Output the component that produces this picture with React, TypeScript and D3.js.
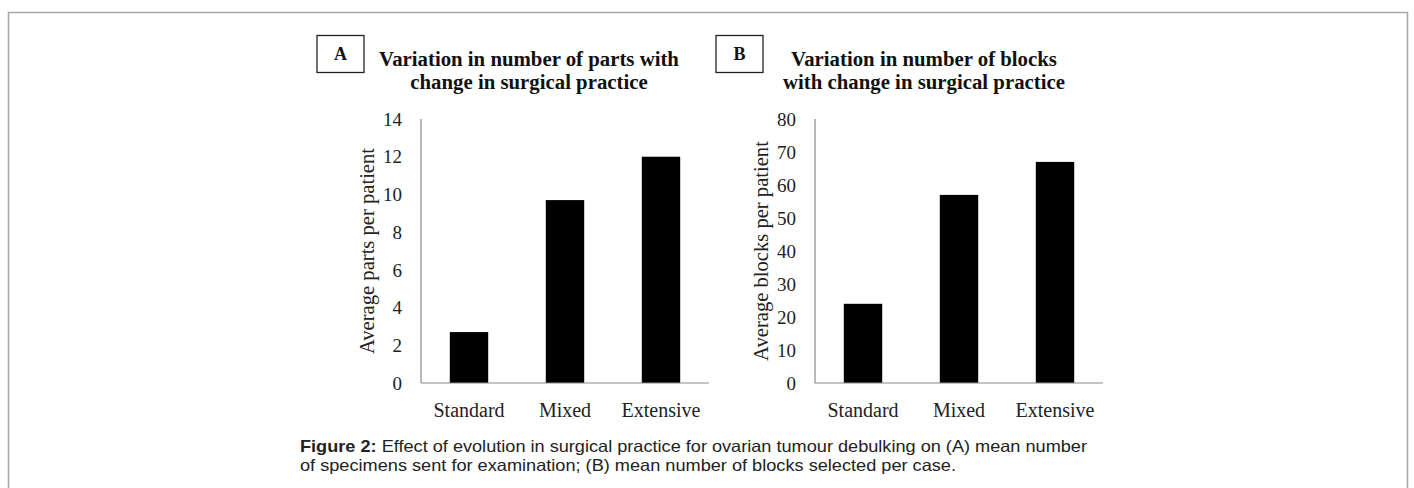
import React from 'react';
import * as d3 from 'd3';

const categories = ['Standard', 'Mixed', 'Extensive'];
const partsValues = [2.7, 9.7, 12];
const blocksValues = [24, 57, 67];
const partsTicks = [0, 2, 4, 6, 8, 10, 12, 14];
const blocksTicks = [0, 10, 20, 30, 40, 50, 60, 70, 80];

const serif = '"Liberation Serif", "Times New Roman", serif';
const sans = '"Liberation Sans", Arial, sans-serif';

type PanelProps = {
  axisX: number;
  letter: string;
  boxX: number;
  titleX: number;
  titleLines: string[];
  yLabel: string;
  values: number[];
  ticks: number[];
};

const Panel = ({ axisX, letter, boxX, titleX, titleLines, yLabel, values, ticks }: PanelProps) => {
  const top = 119;
  const bottom = 383;
  const plotW = 288;

  const x = d3.scaleBand<string>()
    .domain(categories)
    .range([axisX, axisX + plotW])
    .paddingInner(0.6)
    .paddingOuter(0.3);

  const y = d3.scaleLinear()
    .domain([0, d3.max(ticks) as number])
    .range([bottom, top]);

  return (
    <g>
      {/* letter box */}
      <rect x={boxX} y={35.5} width={47} height={37} fill="none" stroke="#222" strokeWidth={1.3} />
      <text x={boxX + 23.5} y={60} textAnchor="middle" fontFamily={serif} fontWeight="bold" fontSize={18} fill="#111">
        {letter}
      </text>

      {/* title */}
      {titleLines.map((t, i) => (
        <text key={i} x={titleX} y={66 + i * 23} textAnchor="middle" fontFamily={serif} fontWeight="bold" fontSize={20.8} fill="#111">
          {t}
        </text>
      ))}

      {/* bars */}
      {categories.map((c, i) => (
        <rect key={c} x={x(c)} y={y(values[i])} width={x.bandwidth()} height={bottom - y(values[i])} fill="#000" />
      ))}

      {/* axes */}
      <line x1={axisX} x2={axisX} y1={top} y2={bottom} stroke="#8a8a8a" strokeWidth={1.2} />
      <line x1={axisX} x2={axisX + plotW} y1={bottom} y2={bottom} stroke="#8a8a8a" strokeWidth={1.2} />

      {ticks.map(t => (
        <text key={t} x={axisX - 19} y={y(t)} dy="0.35em" textAnchor="end" fontFamily={serif} fontSize={19} fill="#222">
          {t}
        </text>
      ))}

      {categories.map(c => (
        <text key={c} x={(x(c) as number) + x.bandwidth() / 2} y={417} textAnchor="middle" fontFamily={serif} fontSize={20} fill="#222">
          {c}
        </text>
      ))}

      <text
        transform={`translate(${axisX - 54},${(top + bottom) / 2}) rotate(-90)`}
        dy="0.35em"
        textAnchor="middle"
        fontFamily={serif}
        fontSize={20.6}
        fill="#222"
      >
        {yLabel}
      </text>
    </g>
  );
};

export default function App() {
  return (
    <div style={{ position: 'absolute', left: 0, top: 0 }}>
      <svg width={1414} height={488} style={{ display: 'block', background: '#fff' }}>
        {/* outer frame, open at the bottom */}
        <path d="M8.5,500 L8.5,12.5 L1407.5,12.5 L1407.5,500" fill="none" stroke="#a6a6a6" strokeWidth={1.5} />

        <Panel
          axisX={421}
          letter="A"
          boxX={317}
          titleX={529}
          titleLines={['Variation in number of parts with', 'change in surgical practice']}
          yLabel="Average parts per patient"
          values={partsValues}
          ticks={partsTicks}
        />
        <Panel
          axisX={815}
          letter="B"
          boxX={716}
          titleX={924}
          titleLines={['Variation in number of blocks', 'with change in surgical practice']}
          yLabel="Average blocks per patient"
          values={blocksValues}
          ticks={blocksTicks}
        />

        <text x={300} y={452} fontFamily={sans} fontSize={16.5} fill="#222" textLength={787} lengthAdjust="spacingAndGlyphs">
          <tspan fontWeight="bold">Figure 2:</tspan>
          <tspan> Effect of evolution in surgical practice for ovarian tumour debulking on (A) mean number</tspan>
        </text>
        <text x={300} y={471} fontFamily={sans} fontSize={16.5} fill="#222" textLength={656} lengthAdjust="spacingAndGlyphs">
          of specimens sent for examination; (B) mean number of blocks selected per case.
        </text>
      </svg>
    </div>
  );
}
